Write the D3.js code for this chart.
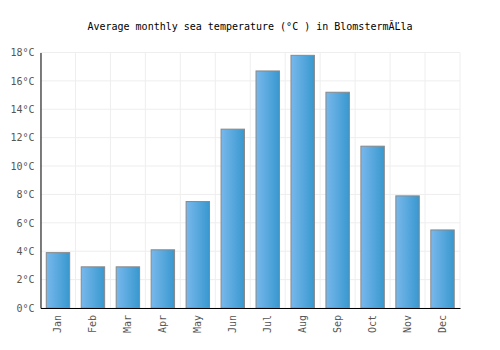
<!DOCTYPE html>
<html>
<head>
<meta charset="utf-8">
<script src="https://cdn.jsdelivr.net/npm/d3@7"></script>
<style>
  body { margin: 0; background: #fff; }
  text { font-family: "DejaVu Sans Mono", monospace; }
</style>
</head>
<body>
<div class="chart-container"></div>
<script>
// Data
const months = ['Jan', 'Feb', 'Mar', 'Apr', 'May', 'Jun', 'Jul', 'Aug', 'Sep', 'Oct', 'Nov', 'Dec']
const seaTemps = [3.9, 2.9, 2.9, 4.1, 7.5, 12.6, 16.7, 17.8, 15.2, 11.4, 7.9, 5.5]
const yTicks = [0, 2, 4, 6, 8, 10, 12, 14, 16, 18]
const chartTitle = 'Average monthly sea temperature (°C ) in Blomsterm\u0102\u013Dla'

let dims = {
    width: 500,
    height: 350,
    margin: { top: 52.5, bottom: 42, left: 40.5, right: 40 }
}

const svg = d3.select('.chart-container')
    .append('svg')
    .attr('width', dims.width)
    .attr('height', dims.height)

const defs = svg.append('defs')
const grad = defs.append('linearGradient')
    .attr('id', 'barGrad')
    .attr('x1', '0%').attr('x2', '100%')
    .attr('y1', '0%').attr('y2', '0%')
grad.append('stop').attr('offset', '0%').attr('stop-color', '#78b8ec')
grad.append('stop').attr('offset', '100%').attr('stop-color', '#3898cf')

const x0 = dims.margin.left
const x1 = dims.width - dims.margin.right
const y0 = dims.height - dims.margin.bottom
const y1 = dims.margin.top

// scales
const xGrid = d3.scaleBand().domain(months).range([x0, x1])
const xScale = d3.scaleBand()
    .domain(months)
    .range([x0, x1])
    .paddingInner(0.33)
    .paddingOuter(0.165)
const yScale = d3.scaleLinear().domain([0, 18]).range([y0, y1])

// Title
svg.append('text')
    .attr('x', 250)
    .attr('y', 30)
    .attr('text-anchor', 'middle')
    .attr('font-size', '10px')
    .attr('fill', '#000')
    .text(chartTitle)

// Grid
const grid = svg.append('g')
grid.selectAll('.hgrid')
    .data(yTicks)
    .join('line')
    .attr('class', 'hgrid')
    .attr('x1', x0).attr('x2', x1)
    .attr('y1', d => yScale(d)).attr('y2', d => yScale(d))
    .attr('stroke', '#eeeeee')
grid.selectAll('.vgrid')
    .data(months.concat(['end']))
    .join('line')
    .attr('class', 'vgrid')
    .attr('x1', d => d === 'end' ? x1 : xGrid(d))
    .attr('x2', d => d === 'end' ? x1 : xGrid(d))
    .attr('y1', y1).attr('y2', y0)
    .attr('stroke', '#eeeeee')

// Bars
svg.append('g').selectAll('rect')
    .data(seaTemps)
    .join('rect')
    .attr('x', (d, i) => xScale(months[i]))
    .attr('y', d => yScale(d))
    .attr('width', xScale.bandwidth())
    .attr('height', d => y0 - yScale(d))
    .attr('fill', 'url(#barGrad)')
    .attr('stroke', '#888')
    .attr('stroke-width', 1)

// Y axis
const yAxis = d3.axisLeft(yScale)
    .tickValues(yTicks)
    .tickSize(0)
    .tickPadding(6)
    .tickFormat(d => d + '°C')
const yAxisGroup = svg.append('g')
    .attr('transform', `translate(${x0},0)`)
    .call(yAxis)
yAxisGroup.select('.domain').attr('stroke', '#000')
yAxisGroup.selectAll('text')
    .attr('font-family', '"DejaVu Sans Mono", monospace')
    .attr('font-size', '10px')
    .attr('fill', '#555')

// X axis
const xAxis = d3.axisBottom(xScale).tickSize(0)
const xAxisGroup = svg.append('g')
    .attr('transform', `translate(0,${y0})`)
    .call(xAxis)
xAxisGroup.select('.domain').attr('stroke', '#000')
xAxisGroup.selectAll('text')
    .attr('font-family', '"DejaVu Sans Mono", monospace')
    .attr('font-size', '10px')
    .attr('fill', '#555')
    .attr('text-anchor', 'end')
    .attr('x', -7)
    .attr('y', 0)
    .attr('dy', '0.35em')
    .attr('transform', 'rotate(-90)')
</script>
</body>
</html>
